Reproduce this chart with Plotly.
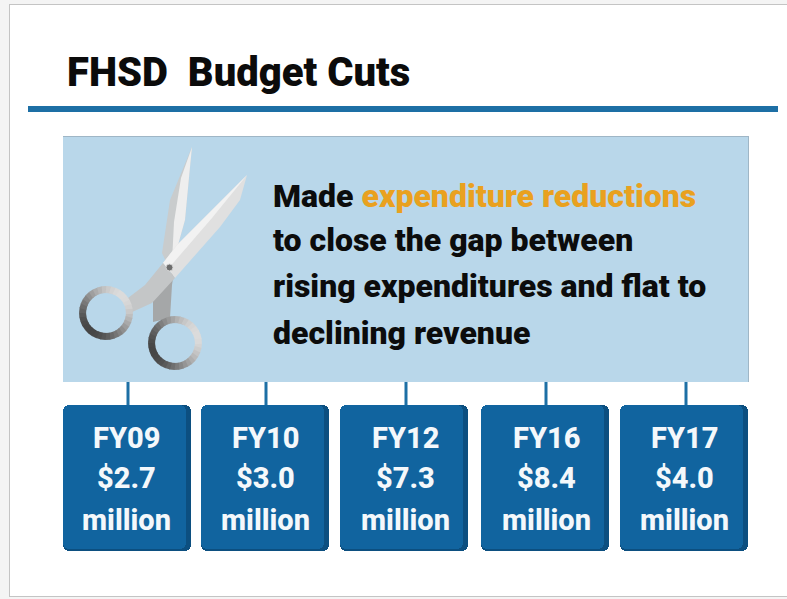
import math
import plotly.graph_objects as go

fiscal_years = ["FY09", "FY10", "FY12", "FY16", "FY17"]
cuts_million = [2.7, 3.0, 7.3, 8.4, 4.0]
title_text = "FHSD  Budget Cuts"
body_lines = [
    "Made <span style='color:#e9a11f'>expenditure reductions</span>",
    "to close the gap between",
    "rising expenditures and flat to",
    "declining revenue",
]
box_centers = [127, 265, 404, 545, 684]
label_centers = [126.5, 265, 405, 546, 684.5]
connector_x = [128, 266, 406, 546, 686]
body_y = [196, 240, 286, 333]
box_line_y = [438, 478, 520]

FONT = "Roboto"
BLUE = "#11649f"
DARK = "#0c4f80"
RULE = "#1d6fa5"
PANEL = "#b9d7ea"

fig = go.Figure()
shapes = []


def rect(x0, y0, x1, y1, color, layer="below"):
    shapes.append(dict(type="rect", x0=x0, y0=y0, x1=x1, y1=y1, layer=layer,
                       fillcolor=color, line=dict(width=0)))


def poly(points, color):
    path = "M " + " L ".join(f"{x},{y}" for x, y in points) + " Z"
    shapes.append(dict(type="path", path=path, layer="above",
                       fillcolor=color, line=dict(width=0)))


# page frame
rect(0, 0, 787, 599, "#f4f4f4")
rect(9, 4, 787, 597, "#c4c4c4")
rect(10, 5, 787, 596, "#ffffff")

# title rule and panel
rect(28, 106, 778, 112, RULE)
rect(63, 136, 749, 382, "#9fb6c6")
rect(63, 137, 748, 382, PANEL)

# connectors
for x in connector_x:
    rect(x - 1.5, 382, x + 1.5, 406, RULE)

# boxes
fig.add_trace(go.Bar(x=box_centers, y=[146] * 5, base=405, width=127.5,
                     marker=dict(color=DARK, cornerradius=6, line=dict(width=0)),
                     hoverinfo="skip", showlegend=False))
fig.add_trace(go.Bar(x=[c - 2.5 for c in box_centers], y=[143.5] * 5, base=405, width=122.5,
                     marker=dict(color=BLUE, cornerradius=6, line=dict(width=0)),
                     hoverinfo="skip", showlegend=False))

# scissors: blades
poly([(192, 147), (170, 200), (162, 253), (169, 268), (173, 263), (185, 220), (190, 167)], "#c9cccd")
poly([(192, 147), (181, 178), (174, 222), (172, 262), (173, 263), (185, 220), (190, 167)], "#eeeeee")
# lower handle
poly([(163, 278), (153, 297), (153, 322), (170, 318), (172, 285), (174, 272)], "#a5a7a8")
# front blade
poly([(247, 175), (177, 245), (163, 263), (175, 278), (220, 227), (240, 200)], "#e0e0e0")
poly([(247, 175), (177, 245), (163, 263), (168, 269), (212, 218)], "#f2f2f2")
poly([(163, 263), (175, 278), (152, 303), (130, 313), (128, 298), (145, 285)], "#c4c6c7")

# scissors: rings, shaded round the circumference
for cx, cy, start in [(106, 313, 45), (175, 343, 20)]:
    steps = 36
    for i in range(steps):
        a0 = 2 * math.pi * i / steps
        a1 = 2 * math.pi * (i + 1.25) / steps
        mid = (a0 + a1) / 2
        tone = 0.5 + 0.5 * math.cos(mid + math.radians(start))
        g = int(70 + 150 * tone)
        r = 23.5
        shapes.append(dict(type="line", layer="above",
                           x0=cx + r * math.cos(a0), y0=cy + r * math.sin(a0),
                           x1=cx + r * math.cos(a1), y1=cy + r * math.sin(a1),
                           line=dict(color=f"rgb({g},{g},{g})", width=7)))
shapes.append(dict(type="circle", layer="above", x0=166, y0=264, x1=173, y1=271,
                   fillcolor="#6c6c6c", line=dict(color="#d8d8d8", width=1)))

annotations = [dict(x=65, y=72, text=title_text, showarrow=False, xanchor="left",
                    yanchor="middle", font=dict(family=FONT, size=40, weight=900, color="#0b0b0b"))]
for line, y in zip(body_lines, body_y):
    annotations.append(dict(x=271, y=y, text=line, showarrow=False, xanchor="left",
                            yanchor="middle", font=dict(family=FONT, size=32, weight=900, color="#0c0c0c")))
for fy, cut, c in zip(fiscal_years, cuts_million, label_centers):
    labels = [fy, f"${cut:.1f}", "million"]
    for text, y in zip(labels, box_line_y):
        annotations.append(dict(x=c, y=y, text=text, showarrow=False, xanchor="center",
                                yanchor="middle", font=dict(family=FONT, size=29, weight=800, color="#f4f8fb")))

fig.update_layout(
    width=787, height=599, margin=dict(l=0, r=0, t=0, b=0),
    barmode="overlay", bargap=0, paper_bgcolor="#ffffff", plot_bgcolor="rgba(0,0,0,0)",
    xaxis=dict(range=[0, 787], visible=False, fixedrange=True),
    yaxis=dict(range=[599, 0], visible=False, fixedrange=True),
    shapes=shapes, annotations=annotations, showlegend=False,
)
fig.write_html("out.html", config=dict(displayModeBar=False),
               post_script="document.body.style.margin='0';document.body.style.overflow='hidden';")
